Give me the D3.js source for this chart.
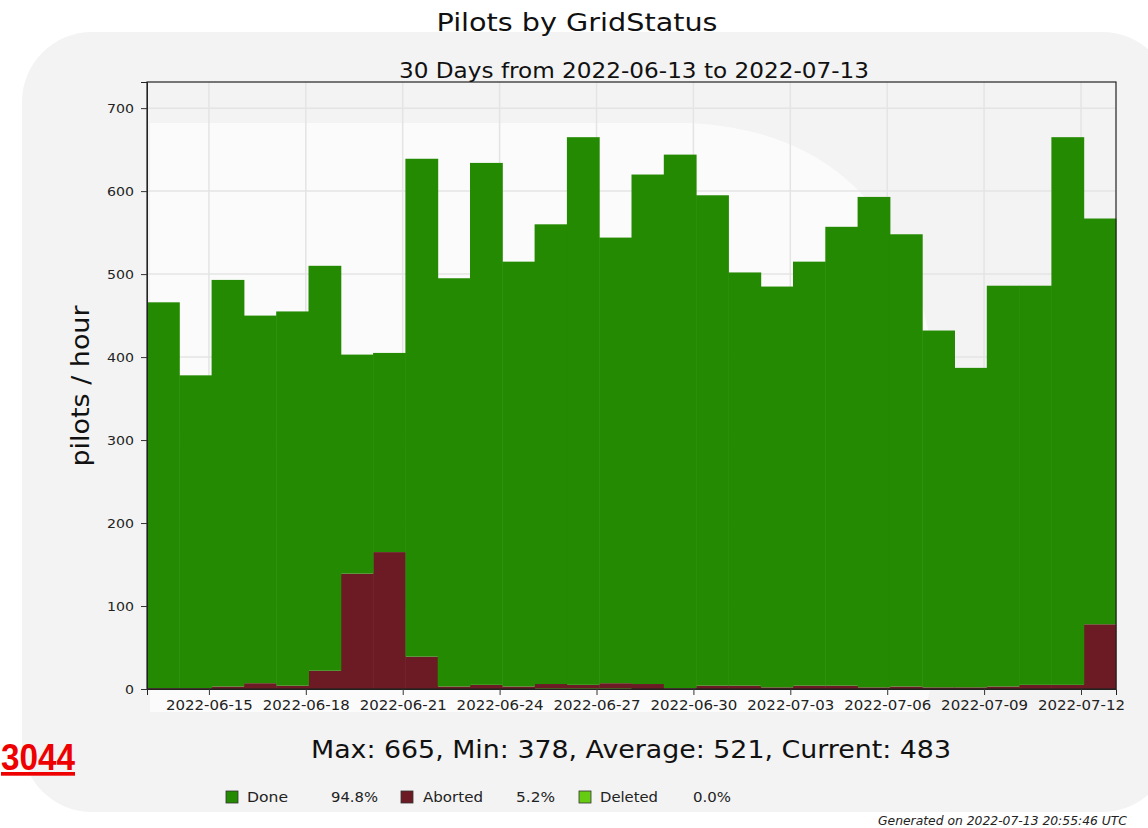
<!DOCTYPE html>
<html><head><meta charset="utf-8">
<script src="https://cdn.jsdelivr.net/npm/d3@7"></script>
<style>
body{margin:0;background:#fff;}
svg{display:block;font-family:"DejaVu Sans",sans-serif;}
</style></head>
<body><svg id="c" width="1148" height="828"></svg>
<script>
const days = ["2022-06-13","2022-06-14","2022-06-15","2022-06-16","2022-06-17","2022-06-18","2022-06-19","2022-06-20","2022-06-21","2022-06-22","2022-06-23","2022-06-24","2022-06-25","2022-06-26","2022-06-27","2022-06-28","2022-06-29","2022-06-30","2022-07-01","2022-07-02","2022-07-03","2022-07-04","2022-07-05","2022-07-06","2022-07-07","2022-07-08","2022-07-09","2022-07-10","2022-07-11","2022-07-12"];
const done    = [465,377,490,443,451,488,264,240,600,492,629,512,554,660,537,614,643,591,498,483,511,553,591,545,430,385,483,481,660,489];
const aborted = [1,1,3,7,4,22,139,165,39,3,5,3,5,4,6,6,1,4,4,2,4,4,2,3,2,2,3,5,5,78];
const deleted = [0,0,0,0,0,0,0,0,0,0,0,0,1,1,1,0,0,0,0,0,0,0,0,0,0,0,0,0,0,0];
const xTickLabels = ["2022-06-15","2022-06-18","2022-06-21","2022-06-24","2022-06-27","2022-06-30","2022-07-03","2022-07-06","2022-07-09","2022-07-12"];
const yTicks = [0,100,200,300,400,500,600,700];
const seriesNames = ["Deleted","Aborted","Done"];
const legendNames = ["Done","Aborted","Deleted"];
const legendPct = ["94.8%","5.2%","0.0%"];
const colors = {Done:"#248a02", Aborted:"#6c1b25", Deleted:"#66cc11"};
const title = "Pilots by GridStatus";
const subtitle = "30 Days from 2022-06-13 to 2022-07-13";
const yLabel = "pilots / hour";
const statsText = "Max: 665, Min: 378, Average: 521, Current: 483";
const generated = "Generated on 2022-07-13 20:55:46 UTC";
const sideNote = "3044";

const svg = d3.select("#c");
const m = {l:147, r:1116, t:82, b:689};

// watermark background
svg.append("rect").attr("x",22).attr("y",32).attr("width",1150).attr("height",780).attr("rx",70).attr("fill","#f3f3f3");
svg.append("path").attr("d","M150,123 L690,123 Q925,135 940,420 Q948,620 925,712 L150,712 Z").attr("fill","#fbfbfb");

const parse = d3.utcParse("%Y-%m-%d");
const offsetH = 2;
const t0 = d3.utcHour.offset(parse(days[0]), offsetH);
const t1 = d3.utcHour.offset(d3.utcDay.offset(parse(days[days.length-1]),1), offsetH);
const x = d3.scaleUtc().domain([t0,t1]).range([m.l,m.r]);
const ymax = d3.max(days.map((d,i)=>done[i]+aborted[i]+deleted[i]))*1.1;
const y = d3.scaleLinear().domain([0,ymax]).range([m.b,m.t]);

// grid
const g = svg.append("g");
g.selectAll(".hg").data(yTicks).join("line")
  .attr("x1",m.l).attr("x2",m.r).attr("y1",d=>y(d)).attr("y2",d=>y(d))
  .attr("stroke","#e4e4e4").attr("stroke-width",1.5);
g.selectAll(".vg").data(xTickLabels).join("line")
  .attr("x1",d=>x(parse(d))).attr("x2",d=>x(parse(d))).attr("y1",m.t).attr("y2",m.b)
  .attr("stroke","#e4e4e4").attr("stroke-width",1.5);

// stacked bars
const rows = days.map((d,i)=>({day:d, Done:done[i], Aborted:aborted[i], Deleted:deleted[i]}));
const stack = d3.stack().keys(seriesNames)(rows);
const bx0 = d=>x(d3.utcHour.offset(parse(d.data.day),offsetH));
const bx1 = d=>x(d3.utcHour.offset(d3.utcDay.offset(parse(d.data.day),1),offsetH));
svg.append("g").selectAll("g").data(stack).join("g").attr("fill",s=>colors[s.key])
  .selectAll("rect").data(s=>s).join("rect")
  .attr("x",bx0).attr("width",d=>bx1(d)-bx0(d)+0.5)
  .attr("y",d=>y(d[1])).attr("height",d=>Math.max(0,y(d[0])-y(d[1])));

// frame
svg.append("rect").attr("x",m.l).attr("y",m.t).attr("width",m.r-m.l).attr("height",m.b-m.t)
  .attr("fill","none").attr("stroke","#222").attr("stroke-width",1.2);

// axes
const xAxis = d3.axisBottom(x).tickValues(xTickLabels.map(parse)).tickSize(6).tickPadding(5).tickFormat(d3.utcFormat("%Y-%m-%d"));
const xa = svg.append("g").attr("transform",`translate(0,${m.b})`).call(xAxis);
xa.select(".domain").attr("stroke","#222");
xa.selectAll("text").attr("font-size",14.5).attr("fill","#222").attr("font-family","DejaVu Sans")
  .attr("textLength",87).attr("lengthAdjust","spacingAndGlyphs");
xa.selectAll(".tick line").attr("stroke","#333");
const yAxis = d3.axisLeft(y).tickValues(yTicks).tickSize(6).tickPadding(7);
const ya = svg.append("g").attr("transform",`translate(${m.l},0)`).call(yAxis);
ya.select(".domain").attr("stroke","#222");
ya.selectAll("text").attr("font-size",13).attr("fill","#222").attr("font-family","DejaVu Sans")
  .attr("textLength",d=>String(d).length*9).attr("lengthAdjust","spacingAndGlyphs");
ya.selectAll(".tick line").attr("stroke","#333");

function fitText(sel, len){ return sel.attr("textLength",len).attr("lengthAdjust","spacingAndGlyphs"); }

// titles
fitText(svg.append("text").attr("x",577).attr("y",31).attr("text-anchor","middle").attr("font-size",24).attr("fill","#111").text(title),281);
fitText(svg.append("text").attr("x",634).attr("y",78).attr("text-anchor","middle").attr("font-size",20.5).attr("fill","#111").text(subtitle),470);
fitText(svg.append("text").attr("transform","translate(89,386) rotate(-90)").attr("text-anchor","middle").attr("font-size",25).attr("fill","#111").text(yLabel),161);
fitText(svg.append("text").attr("x",631).attr("y",758).attr("text-anchor","middle").attr("font-size",24.5).attr("fill","#111").text(statsText),640);

// legend
const legX = [226,401,579], legTextX=[247,423,600], legPctX=[331,516,693];
const legTextW=[41,60,58], legPctW=[47,39,38];
legendNames.forEach((n,i)=>{
  svg.append("rect").attr("x",legX[i]).attr("y",791).attr("width",12).attr("height",12)
    .attr("fill",colors[n]).attr("stroke","#333").attr("stroke-width",0.8);
  fitText(svg.append("text").attr("x",legTextX[i]).attr("y",802).attr("font-size",14).attr("fill","#222").text(n),legTextW[i]);
  fitText(svg.append("text").attr("x",legPctX[i]).attr("y",802).attr("font-size",14).attr("fill","#222").text(legendPct[i]),legPctW[i]);
});
fitText(svg.append("text").attr("x",1127).attr("y",825).attr("text-anchor","end").attr("font-size",11.5).attr("font-style","italic").attr("fill","#222").text(generated),249);

// side note
fitText(svg.append("text").attr("x",1).attr("y",770).attr("font-size",37).attr("font-weight","bold")
  .attr("font-family","Liberation Sans Narrow, Liberation Sans, sans-serif")
  .attr("fill","#ee0000").attr("text-decoration","underline").text(sideNote),74);
</script></body></html>
